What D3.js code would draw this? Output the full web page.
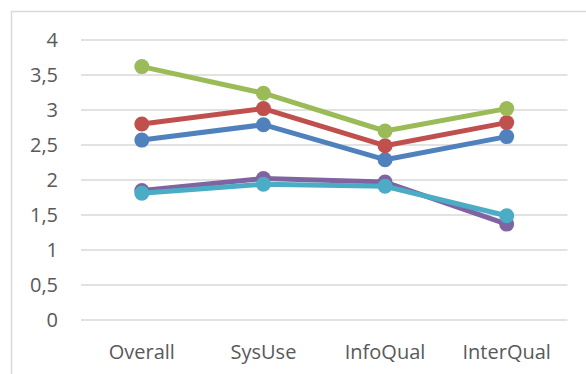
<!DOCTYPE html>
<html>
<head>
<meta charset="utf-8">
<script src="https://cdn.jsdelivr.net/npm/d3@7"></script>
<style>
  html, body { margin: 0; padding: 0; background: #fff; }
  svg { display: block; }
  text { font-family: "Open Sans", "Noto Sans", sans-serif; fill: #595959; }
</style>
</head>
<body>
<svg id="chart" width="586" height="374"></svg>
<script>
// Categories and per-series scores
const categories = ["Overall", "SysUse", "InfoQual", "InterQual"];
const seriesBlue   = [2.57, 2.79, 2.29, 2.62];
const seriesRed    = [2.80, 3.02, 2.49, 2.82];
const seriesGreen  = [3.62, 3.24, 2.70, 3.02];
const seriesPurple = [1.85, 2.02, 1.97, 1.37];
const seriesCyan   = [1.81, 1.94, 1.91, 1.49];
const yTicks = [0, 0.5, 1, 1.5, 2, 2.5, 3, 3.5, 4];

const series = [
  { values: seriesBlue,   color: "#4F81BD" },
  { values: seriesRed,    color: "#C0504D" },
  { values: seriesGreen,  color: "#9BBB59" },
  { values: seriesPurple, color: "#8064A2" },
  { values: seriesCyan,   color: "#4BACC6" }
];

const svg = d3.select("#chart");
const plotLeft = 81, plotRight = 567.5, plotTop = 40, plotBottom = 320;

// chart area frame (top and left edges visible)
svg.append("path")
  .attr("d", "M11.5,374 V11.5 H586")
  .attr("fill", "none")
  .attr("stroke", "#d9d9d9")
  .attr("stroke-width", 1.5);

const x = d3.scaleBand().domain(categories).range([plotLeft, plotRight]);
const y = d3.scaleLinear().domain([0, 4]).range([plotBottom, plotTop]);

// horizontal gridlines
svg.append("g")
  .selectAll("line")
  .data(yTicks)
  .join("line")
  .attr("x1", plotLeft).attr("x2", plotRight)
  .attr("y1", d => y(d)).attr("y2", d => y(d))
  .attr("stroke", "#d9d9d9")
  .attr("stroke-width", 1.5);

// y axis labels with comma decimals
const fmt = d => String(d).replace(".", ",");
svg.append("g")
  .selectAll("text")
  .data(yTicks)
  .join("text")
  .attr("x", 58)
  .attr("y", d => y(d))
  .attr("dy", "0.36em")
  .attr("text-anchor", "end")
  .attr("font-size", 20)
  .text(fmt);

// category labels
svg.append("g")
  .selectAll("text")
  .data(categories)
  .join("text")
  .attr("x", d => x(d) + x.bandwidth() / 2)
  .attr("y", 358.5)
  .attr("text-anchor", "middle")
  .attr("font-size", 20)
  .text(d => d);

const cx = (d, i) => x(categories[i]) + x.bandwidth() / 2;
const line = d3.line().x(cx).y(d => y(d));

series.forEach(s => {
  const g = svg.append("g");
  g.append("path")
    .attr("d", line(s.values))
    .attr("fill", "none")
    .attr("stroke", s.color)
    .attr("stroke-width", 5)
    .attr("stroke-linejoin", "round");
  g.selectAll("circle")
    .data(s.values)
    .join("circle")
    .attr("cx", cx)
    .attr("cy", d => y(d))
    .attr("r", 7.5)
    .attr("fill", s.color);
});
</script>
</body>
</html>
